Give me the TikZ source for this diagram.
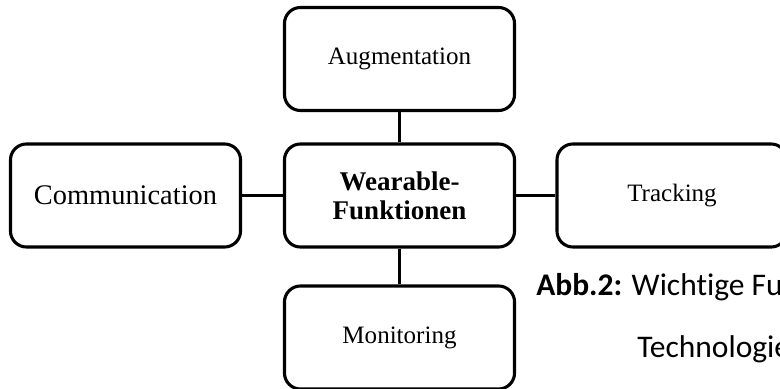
\documentclass[tikz,border=0pt]{standalone}
\usepackage{fontspec}
\setmainfont{Liberation Serif}
\newfontfamily\capfont[Ligatures=NoCommon]{Carlito}
\usepackage{tikz}

\begin{document}
\begin{tikzpicture}[x=0.025cm,y=-0.025cm,
    funcbox/.style={draw=black, line width=2.2pt, rounded corners=0.4cm,
        minimum width=5.75cm, minimum height=2.575cm, inner sep=0pt,
        align=center, font=\fontsize{17.8}{21}\selectfont},
    link/.style={draw=black, line width=2.2pt},
    captext/.style={anchor=base west, inner sep=0pt, font=\capfont\fontsize{22.4}{26}\selectfont}]
    \clip (0,0) rectangle (780,388);
    % centre
    \node [funcbox, font=\fontsize{19.2}{20.6}\selectfont\bfseries] (core) at (399.5,195.5) {Wearable-\\Funktionen};
    % boxes round it
    \node [funcbox] (aug) at (399.5,59) {Augmentation};
    \node [funcbox, font=\fontsize{20.2}{24}\selectfont] (comm) at (125.5,195.5) {Communication};
    \node [funcbox] (track) at (672,195.5) {Tracking};
    \node [funcbox] (moni) at (399.5,337.5) {Monitoring};
    % links
    \draw [link] (core) -- (aug);
    \draw [link] (core) -- (comm);
    \draw [link] (core) -- (track);
    \draw [link] (core) -- (moni);
    % caption
    \node [captext] (cap1) at (536,295) {\textbf{Abb.2:} Wichtige Fu};
    \node [captext] (cap2) at (637,357) {Technologie};
\end{tikzpicture}
\end{document}
